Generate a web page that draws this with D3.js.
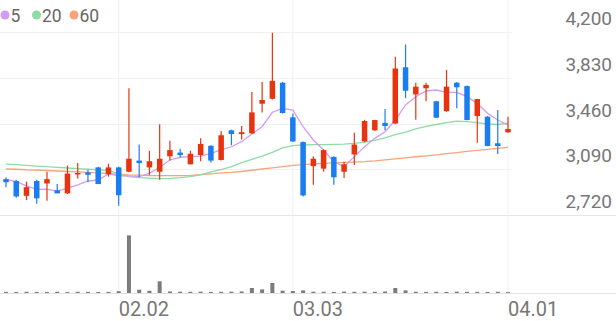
<!DOCTYPE html>
<html>
<head>
<meta charset="utf-8">
<script src="https://cdn.jsdelivr.net/npm/d3@7"></script>
<style>
  body { margin: 0; background: #fff; }
  svg { display: block; font-family: Roboto, "Noto Sans", sans-serif; }
</style>
</head>
<body>
<script>
  //-----------------------------DATA------------------------------//
  const dates = [
    "01.16", "01.19", "01.20", "01.21", "01.22", "01.23", "01.26", "01.27", "01.28", "01.29",
    "01.30", "02.02", "02.03", "02.04", "02.05", "02.06", "02.09", "02.10", "02.11", "02.12",
    "02.13", "02.19", "02.20", "02.23", "02.24", "02.25", "02.26", "02.27", "03.03", "03.04",
    "03.05", "03.06", "03.09", "03.10", "03.11", "03.12", "03.13", "03.16", "03.17", "03.18",
    "03.19", "03.20", "03.23", "03.24", "03.25", "03.26", "03.27", "03.30", "03.31", "04.01"
  ];
  const open = [
    3010, 2995, 2875, 2995, 2975, 2920, 2895, 3050, 3065, 3105,
    3050, 3105, 3070, 3160, 3105, 3070, 3195, 3225, 3130, 3205,
    3280, 3165, 3405, 3375, 3380, 3620, 3660, 3790, 3510, 3310,
    3115, 3095, 3190, 3070, 3210, 3315, 3405, 3465, 3460, 3915,
    3695, 3745, 3640, 3560, 3790, 3763, 3520, 3515, 3300, 3389
  ];
  const high = [
    3025, 3005, 2990, 3005, 3070, 2970, 3120, 3140, 3085, 3110,
    3135, 3110, 3745, 3290, 3240, 3455, 3320, 3255, 3240, 3340,
    3285, 3400, 3410, 3440, 3715, 3795, 4195, 3795, 3540, 3315,
    3195, 3250, 3195, 3150, 3385, 3490, 3490, 3578, 4000, 4100,
    3790, 3790, 3645, 3893, 3795, 3768, 3660, 3520, 3570, 3515
  ];
  const low = [
    2945, 2860, 2840, 2810, 2835, 2895, 2890, 3015, 2985, 2970,
    3030, 2795, 3065, 3025, 3045, 3005, 3160, 3185, 3130, 3155,
    3145, 3160, 3285, 3330, 3375, 3550, 3655, 3540, 3310, 2870,
    2965, 3070, 2965, 3020, 3125, 3310, 3400, 3405, 3455, 3665,
    3490, 3640, 3505, 3555, 3583, 3486, 3305, 3276, 3213, 3385
  ];
  const close = [
    2985, 2870, 2945, 2855, 3010, 2895, 3055, 3060, 3045, 2970,
    3105, 2880, 3175, 3140, 3155, 3175, 3245, 3205, 3215, 3295,
    3160, 3365, 3375, 3390, 3550, 3650, 3805, 3545, 3315, 2878,
    3175, 3245, 3025, 3130, 3290, 3480, 3488, 3440, 3905, 3725,
    3758, 3772, 3507, 3758, 3753, 3488, 3658, 3278, 3278, 3416
  ];
  const ma5 = [
    3009, 2989, 2955, 2928, 2930, 2914, 2938, 2963, 2995, 3003,
    3052, 3036, 3036, 3031, 3057, 3106, 3165, 3187, 3192, 3197,
    3219, 3246, 3272, 3313, 3375, 3434, 3551, 3583, 3569, 3434,
    3327, 3246, 3151, 3111, 3192, 3272, 3340, 3394, 3488, 3610,
    3677, 3723, 3731, 3712, 3712, 3677, 3623, 3543, 3488, 3448
  ];
  const ma20 = [
    3132, 3127, 3122, 3116, 3111, 3106, 3100, 3095, 3090, 3086,
    3080, 3052, 3030, 3023, 3019, 3014, 3017, 3023, 3031, 3044,
    3068, 3088, 3111, 3143, 3170, 3197, 3227, 3262, 3281, 3286,
    3290, 3290, 3292, 3294, 3300, 3310, 3323, 3343, 3371, 3391,
    3416, 3436, 3452, 3468, 3480, 3476, 3468, 3456, 3452, 3462
  ];
  const ma60 = [
    3092, 3090, 3086, 3084, 3080, 3076, 3072, 3068, 3064, 3060,
    3055, 3050, 3045, 3042, 3039, 3039, 3039, 3039, 3041, 3047,
    3053, 3060, 3065, 3072, 3082, 3092, 3102, 3111, 3122, 3128,
    3134, 3138, 3141, 3145, 3148, 3152, 3158, 3166, 3174, 3182,
    3191, 3199, 3207, 3216, 3225, 3234, 3243, 3250, 3259, 3267
  ];
  const volume = [
    110, 100, 120, 110, 100, 130, 90, 120, 110, 100,
    110, 180, 5760, 330, 220, 1170, 150, 130, 120, 130,
    110, 120, 130, 150, 500, 360, 1000, 230, 200, 260,
    130, 120, 110, 140, 120, 130, 120, 150, 500, 260,
    120, 110, 120, 110, 130, 120, 110, 100, 120, 90
  ];
  const priceTicks = [4200, 3830, 3460, 3090, 2720];
  const dateTicks = ["02.02", "03.03", "04.01"];
  const legendNames = ["5", "20", "60"];

  //-----------------------------SVG------------------------------//
  const width = 616;
  const height = 321;
  const plotRight = 512;
  const priceBottom = 215;
  const volBottom = 293;

  const up = "#e8330f";
  const down = "#1a7ef2";
  const maColors = ["#d59bf0", "#8edba4", "#f7a47e"];

  const svg = d3
    .select("body")
    .append("svg")
    .attr("width", width)
    .attr("height", height);

  //----------------------------SCALES-----------------------------//
  const x = d3.scalePoint().domain(dates).range([6, 508]);
  const y = d3.scaleLinear().domain([2720, 4459]).range([priceBottom, 0]);
  const yVol = d3.scaleLinear().domain([0, 6300]).range([volBottom, 230]);

  //-----------------------------GRID------------------------------//
  svg
    .selectAll(".vgrid")
    .data(dateTicks)
    .enter()
    .append("line")
    .attr("x1", (d) => x(d))
    .attr("x2", (d) => x(d))
    .attr("y1", 0)
    .attr("y2", volBottom)
    .attr("stroke", "#f0f0f0");

  svg
    .selectAll(".hgrid")
    .data(priceTicks)
    .enter()
    .append("line")
    .attr("x1", 0)
    .attr("x2", (d) => (d === 2720 ? width : plotRight))
    .attr("y1", (d) => Math.round(y(d)) + 0.5)
    .attr("y2", (d) => Math.round(y(d)) + 0.5)
    .attr("stroke", (d) => (d === 2720 ? "#e6e6e6" : "#f0f0f0"));

  svg
    .append("line")
    .attr("x1", 0)
    .attr("x2", width)
    .attr("y1", volBottom + 0.5)
    .attr("y2", volBottom + 0.5)
    .attr("stroke", "#e2e2e2");

  //-----------------------------AXES------------------------------//
  svg
    .selectAll(".ylabel")
    .data(priceTicks)
    .enter()
    .append("text")
    .attr("x", 612)
    .attr("y", (d) => y(d) - 7)
    .attr("text-anchor", "end")
    .attr("font-size", 19)
    .attr("fill", "#777")
    .text((d) => d3.format(",")(d));

  svg
    .selectAll(".xlabel")
    .data(dateTicks)
    .enter()
    .append("text")
    .attr("x", (d) => x(d))
    .attr("y", 316)
    .attr("font-size", 20)
    .attr("fill", "#777")
    .text((d) => d);

  //----------------------------VOLUME-----------------------------//
  svg
    .selectAll(".vol")
    .data(volume)
    .enter()
    .append("rect")
    .attr("x", (d, i) => x(dates[i]) - 2)
    .attr("width", 4)
    .attr("y", (d) => yVol(d))
    .attr("height", (d) => volBottom - yVol(d))
    .attr("fill", "#7b7b7b");

  //-----------------------------LINES-----------------------------//
  const line = d3
    .line()
    .x((d, i) => x(dates[i]))
    .y((d) => y(d));

  [ma60, ma20, ma5].forEach(function (s, k) {
    svg
      .append("path")
      .attr("d", line(s))
      .attr("fill", "none")
      .attr("stroke", maColors[2 - k])
      .attr("stroke-width", 1.3);
  });

  //----------------------------CANDLES----------------------------//
  const candles = svg
    .selectAll(".candle")
    .data(dates)
    .enter()
    .append("g")
    .attr("fill", (d, i) => (close[i] >= open[i] ? up : down))
    .attr("stroke", (d, i) => (close[i] >= open[i] ? up : down));

  candles
    .append("line")
    .attr("x1", (d) => x(d))
    .attr("x2", (d) => x(d))
    .attr("y1", (d, i) => y(high[i]))
    .attr("y2", (d, i) => y(low[i]))
    .attr("stroke-width", 1.2);

  candles
    .append("rect")
    .attr("x", (d) => x(d) - 2.75)
    .attr("width", 5.5)
    .attr("y", (d, i) => y(Math.max(open[i], close[i])))
    .attr("height", (d, i) =>
      Math.max(1.5, Math.abs(y(open[i]) - y(close[i])))
    )
    .attr("stroke", "none");

  //----------------------------LEGEND-----------------------------//
  const legend = svg
    .selectAll(".legend")
    .data(legendNames)
    .enter()
    .append("g")
    .attr("transform", (d, i) => "translate(" + [5, 36.5, 74][i] + ",15)");

  legend
    .append("circle")
    .attr("r", 4.5)
    .attr("fill", (d, i) => maColors[i]);

  legend
    .append("text")
    .attr("x", 5.5)
    .attr("y", 6.5)
    .attr("font-size", 17.5)
    .attr("fill", "#666")
    .text((d) => d);
</script>
</body>
</html>
